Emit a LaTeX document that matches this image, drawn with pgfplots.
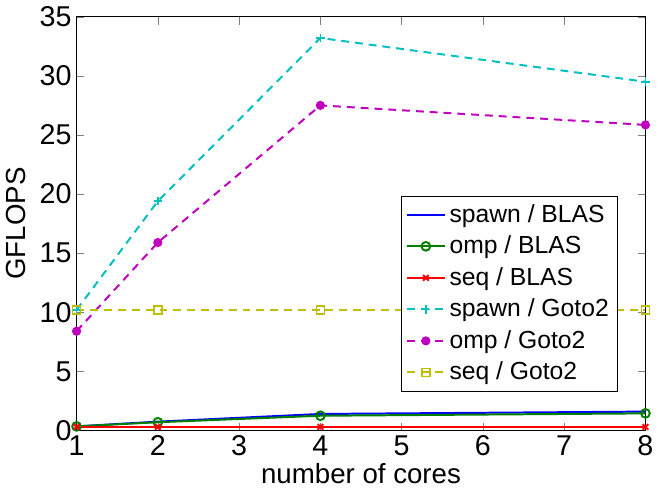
\documentclass[border=0pt]{standalone}
\usepackage{pgfplots}
\pgfplotsset{compat=1.18}
\usepackage{fontspec}
\setmainfont{Liberation Sans}
\definecolor{mblue}{rgb}{0,0,1}
\definecolor{mgreen}{rgb}{0,0.5,0}
\definecolor{mred}{rgb}{1,0,0}
\definecolor{mcyan}{rgb}{0,0.75,0.75}
\definecolor{mmag}{rgb}{0.75,0,0.75}
\definecolor{molive}{rgb}{0.75,0.75,0}
\begin{document}
\begin{tikzpicture}
\begin{axis}[
  scale only axis,
  width=288pt, height=209.5pt,
  xmin=1, xmax=8, ymin=0, ymax=35,
  xtick={1,2,3,4,5,6,7,8},
  ytick={0,5,10,15,20,25,30,35},
  tick align=inside,
  major tick length=4pt,
  /pgf/number format/assume math mode=true,
  tick label style={font=\fontsize{14.5}{16}\selectfont},
  xticklabel style={yshift=1pt},
  yticklabel style={xshift=1pt},
  xlabel={\fontsize{14}{16}\selectfont number of cores},
  ylabel={\fontsize{14}{16}\selectfont GFLOPS},
  xlabel style={yshift=3pt},
  ylabel style={yshift=0pt},
  axis line style={line width=0.6pt},
  legend cell align=left,
  legend style={at={(0.951,0.094)}, anchor=south east, font=\fontsize{12.5}{14}\selectfont, draw=black, line width=0.5pt, row sep=1.4pt, inner sep=2.2pt},
  legend image code/.code={\draw[#1] (0pt,0pt) -- (9.5pt,0pt) -- (19pt,0pt); \draw[#1,mark repeat=2,mark phase=2] plot coordinates {(0pt,0pt) (9.5pt,0pt) (19pt,0pt)};},
]
\addplot[mblue, line width=1pt, mark=none] coordinates {(1,0.35) (2,0.75) (4,1.4) (8,1.6)};
\addlegendentry{spawn / BLAS}
\addplot[mgreen, line width=1pt, mark=o, mark size=2.2pt, mark options={line width=1pt}] coordinates {(1,0.35) (2,0.7) (4,1.25) (8,1.45)};
\addlegendentry{omp / BLAS}
\addplot[mred, line width=1pt, mark=x, mark size=2pt, mark options={line width=1pt}] coordinates {(1,0.3) (2,0.3) (4,0.3) (8,0.3)};
\addlegendentry{seq / BLAS}
\addplot[mcyan, line width=1pt, dash pattern=on 4pt off 3pt, mark=+, mark size=2.2pt, mark options={solid,line width=0.8pt}] coordinates {(1,10.2) (2,19.4) (4,33.2) (8,29.5)};
\addlegendentry{spawn / Goto2}
\addplot[mmag, line width=1pt, dash pattern=on 4pt off 3pt, mark=*, mark size=1.8pt, mark options={solid}] coordinates {(1,8.4) (2,15.9) (4,27.5) (8,25.85)};
\addlegendentry{omp / Goto2}
\addplot[molive, line width=1pt, dash pattern=on 4pt off 3pt, mark=square, mark size=2pt, mark options={solid,line width=0.8pt}] coordinates {(1,10.2) (2,10.2) (4,10.2) (8,10.2)};
\addlegendentry{seq / Goto2}
\end{axis}
\end{tikzpicture}
\end{document}
